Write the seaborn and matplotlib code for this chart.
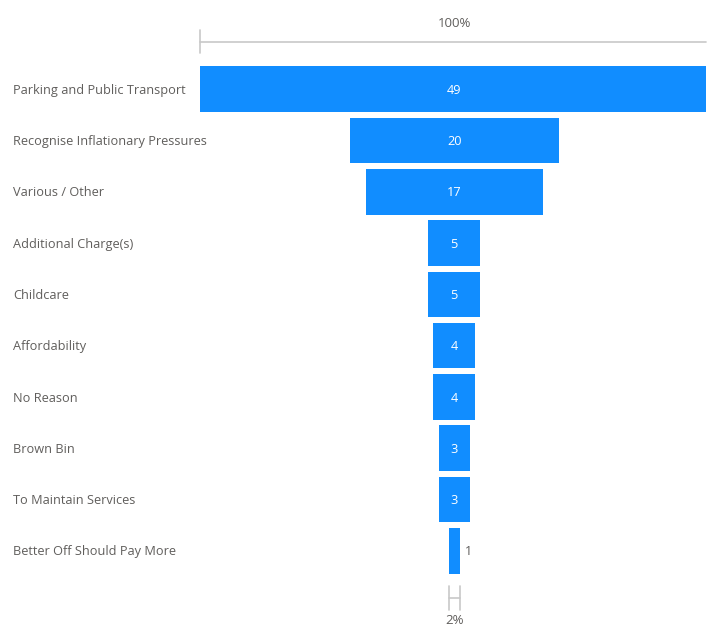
import matplotlib
matplotlib.use("Agg")
import matplotlib.pyplot as plt
import matplotlib.transforms as mtransforms
import seaborn as sns
import pandas as pd

categories = [
    "Parking and Public Transport",
    "Recognise Inflationary Pressures",
    "Various / Other",
    "Additional Charge(s)",
    "Childcare",
    "Affordability",
    "No Reason",
    "Brown Bin",
    "To Maintain Services",
    "Better Off Should Pay More",
]
counts = [49, 20, 17, 5, 5, 4, 4, 3, 3, 1]

df = pd.DataFrame({"category": categories, "count": counts})

sns.set_style("white")
plt.rcParams["font.family"] = ["Open Sans", "DejaVu Sans"]

blue = "#118DFF"
label_grey = "#605E5C"
line_grey = "#C8C8C8"

fig = plt.figure(figsize=(7.12, 6.26), dpi=100)
ax = fig.add_axes([200 / 712, 1 - 576.6 / 626, 506 / 712, 513.2 / 626])

sns.barplot(data=df, x="count", y="category", color=blue, saturation=1,
            width=0.89, linewidth=0, ax=ax)

# centre each bar around zero to get the funnel shape
for p in ax.patches:
    w = p.get_width()
    p.set_x(-w / 2)

top = max(counts)
# the widest bar is slightly cropped by the visual, a bit more on the right
x_left, x_right = -24.35, 24.1
ax.set_xlim(x_left, x_right)
ax.set_ylim(len(categories) - 0.5, -0.5)
ax.axis("off")

# category labels at the left edge of the figure
trans = mtransforms.blended_transform_factory(fig.transFigure, ax.transData)
for i, cat in enumerate(categories):
    ax.text(13 / 712, i + 0.02, cat, transform=trans, ha="left", va="center",
            fontsize=9.2, color=label_grey)

# value labels
for i, v in enumerate(counts):
    if v / top > 0.05:
        ax.text(0, i + 0.02, str(v), ha="center", va="center", fontsize=9.2,
                color="white")
    else:
        ax.text(v / 2 + 0.5, i + 0.02, str(v), ha="left", va="center",
                fontsize=9, color=label_grey)

# 100% scale at the top
ax.plot([x_left, x_right], [-0.92, -0.92], color=line_grey, lw=1.2,
        clip_on=False)
ax.plot([x_left, x_left], [-1.15, -0.71], color=line_grey, lw=1.2,
        clip_on=False)
ax.text(0, -1.28, "100%", ha="center", va="center", fontsize=9.5,
        color=label_grey)

# 2% scale at the bottom
last = counts[-1]
ax.plot([-last / 2, -last / 2], [9.68, 10.15], color=line_grey, lw=1.2,
        clip_on=False)
ax.plot([last / 2, last / 2], [9.68, 10.15], color=line_grey, lw=1.2,
        clip_on=False)
ax.plot([-last / 2, last / 2], [9.91, 9.91], color=line_grey, lw=1.2,
        clip_on=False)
ax.text(0, 10.35, f"{round(100 * last / top)}%", ha="center", va="center",
        fontsize=9.5, color=label_grey)

fig.savefig("out.png", dpi=100)
